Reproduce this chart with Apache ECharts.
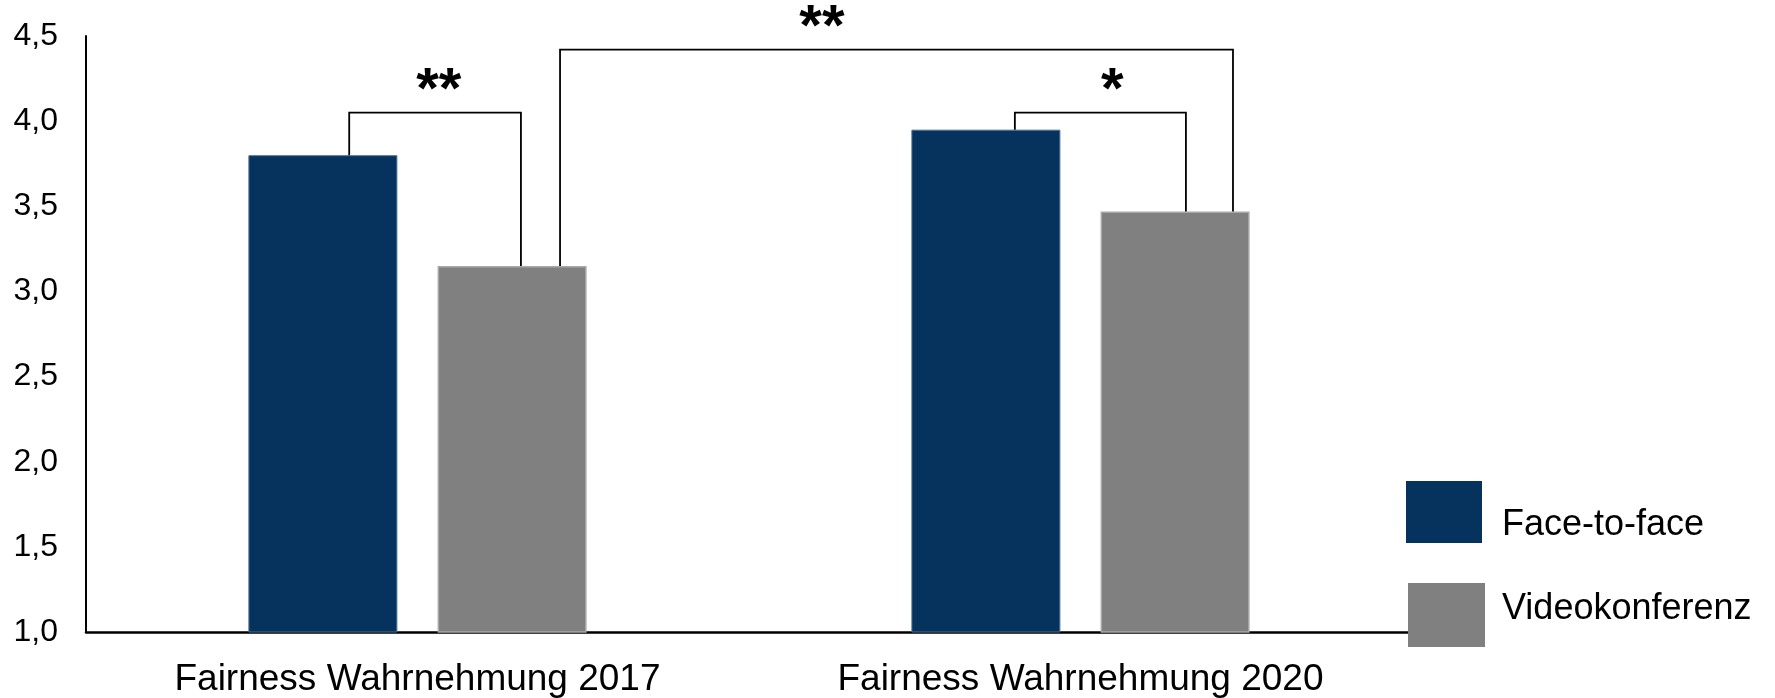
<!DOCTYPE html>
<html>
<head>
<meta charset="utf-8">
<script src="https://cdn.jsdelivr.net/npm/echarts@6/dist/echarts.min.js"></script>
<style>
  html, body { margin: 0; padding: 0; background: #fff; }
  #chart { width: 1775px; height: 698px; }
</style>
</head>
<body>
<div id="chart"></div>
<script>
// Categories and mean ratings per condition
const categories = ['Fairness Wahrnehmung 2017', 'Fairness Wahrnehmung 2020'];
const faceToFace = [3.80, 3.95];
const videokonferenz = [3.15, 3.47];
const seriesNames = ['Face-to-face', 'Videokonferenz'];

// Value axis range
const yMin = 1.0;
const yMax = 4.5;
const yStep = 0.5;

// Significance brackets: which bars they connect, bracket height, marker
const brackets = [
  { from: [0, 0], to: [0, 1], top: 4.05, mark: '**' },
  { from: [0, 1], to: [1, 1], top: 4.42, mark: '**' },
  { from: [1, 0], to: [1, 1], top: 4.05, mark: '*' }
];

// Horizontal placement of bracket legs and marker, in category-band units
const bracketLayout = [
  { left: 0.397, right: 0.656, markX: 0.532 },
  { left: 0.715, right: 1.730, markX: 1.110 },
  { left: 1.401, right: 1.659, markX: 1.548 }
];

const valuesBySeries = [faceToFace, videokonferenz];
const FONT = '"Liberation Sans", Arial, Helvetica, sans-serif';
const BLUE = '#05335d';
const GRAY = '#808080';

const chart = echarts.init(document.getElementById('chart'), null, { renderer: 'canvas' });

const legendBase = {
  orient: 'vertical',
  padding: 0,
  icon: 'rect',
  itemGap: 0,
  itemStyle: { borderWidth: 0 },
  formatter: name => '{t|' + name + '}'
};

chart.setOption({
  animation: false,
  backgroundColor: '#ffffff',
  textStyle: { fontFamily: FONT, color: '#000' },
  grid: { left: 86, right: 363, top: 36, bottom: 66, containLabel: false },
  legend: [
    Object.assign({}, legendBase, {
      left: 1406,
      top: 481,
      itemWidth: 76,
      itemHeight: 62,
      data: [seriesNames[0]],
      textStyle: {
        fontFamily: FONT, fontSize: 36, color: '#000',
        rich: { t: { fontFamily: FONT, fontSize: 36, color: '#000', padding: [26, 0, 0, 15] } }
      }
    }),
    Object.assign({}, legendBase, {
      left: 1408,
      top: 583,
      itemWidth: 77,
      itemHeight: 64,
      data: [seriesNames[1]],
      textStyle: {
        fontFamily: FONT, fontSize: 36, color: '#000',
        rich: { t: { fontFamily: FONT, fontSize: 36, color: '#000', padding: [0, 0, 12, 12] } }
      }
    })
  ],
  xAxis: [
    {
      type: 'category',
      data: categories,
      axisLine: { show: true, lineStyle: { color: '#000', width: 2.5 } },
      axisTick: { show: false },
      axisLabel: { fontFamily: FONT, fontSize: 37, color: '#000', margin: 29 },
      splitLine: { show: false }
    },
    {
      // helper axis spanning the two category bands, used to place the brackets
      type: 'value',
      min: 0,
      max: categories.length,
      show: false
    }
  ],
  yAxis: {
    type: 'value',
    min: yMin,
    max: yMax,
    interval: yStep,
    axisLine: { show: true, lineStyle: { color: '#000', width: 2 } },
    axisTick: { show: false },
    splitLine: { show: false },
    axisLabel: {
      fontFamily: FONT,
      fontSize: 32,
      color: '#000',
      margin: 28,
      formatter: v => v.toFixed(1).replace('.', ',')
    }
  },
  series: [
    {
      name: seriesNames[0],
      type: 'bar',
      data: faceToFace,
      barWidth: 149,
      barGap: '27%',
      itemStyle: { color: BLUE, borderColor: '#4f7195', borderWidth: 1 }
    },
    {
      name: seriesNames[1],
      type: 'bar',
      data: videokonferenz,
      barWidth: 149,
      barGap: '27%',
      itemStyle: { color: GRAY, borderColor: '#a8a8a8', borderWidth: 1.5 }
    },
    {
      type: 'custom',
      xAxisIndex: 1,
      silent: true,
      z: 10,
      data: brackets.map((b, i) => [i]),
      renderItem: (params, api) => {
        const b = brackets[params.dataIndex];
        const lay = bracketLayout[params.dataIndex];
        const leftBottom = valuesBySeries[b.from[1]][b.from[0]];
        const rightBottom = valuesBySeries[b.to[1]][b.to[0]];
        const pL0 = api.coord([lay.left, leftBottom]);
        const pL1 = api.coord([lay.left, b.top]);
        const pR1 = api.coord([lay.right, b.top]);
        const pR0 = api.coord([lay.right, rightBottom]);
        const pM = api.coord([lay.markX, b.top]);
        return {
          type: 'group',
          children: [
            {
              type: 'polyline',
              shape: { points: [pL0, pL1, pR1, pR0] },
              style: { stroke: '#000', lineWidth: 1.8, fill: null }
            },
            {
              type: 'text',
              style: {
                text: b.mark,
                x: pM[0],
                y: pM[1] - 21,
                align: 'center',
                verticalAlign: 'middle',
                font: 'bold 58px ' + FONT,
                fill: '#000'
              }
            }
          ]
        };
      }
    }
  ]
});
</script>
</body>
</html>
